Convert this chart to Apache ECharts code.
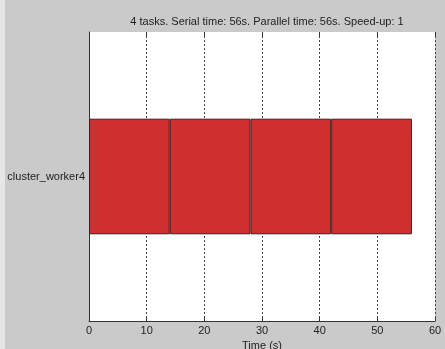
<!DOCTYPE html>
<html>
<head>
<meta charset="utf-8">
<script src="https://cdn.jsdelivr.net/npm/echarts@6/dist/echarts.min.js"></script>
<style>html,body{margin:0;padding:0;background:#cacaca;}#c{width:445px;height:349px;}</style>
</head>
<body>
<div id="c"></div>
<script>
var titleText = '4 tasks. Serial time: 56s. Parallel time: 56s. Speed-up: 1';
var categories = ['cluster_worker4'];
var task1 = [14];
var task2 = [14];
var task3 = [14];
var task4 = [14];
var xTicks = [0, 10, 20, 30, 40, 50, 60];
var xLabel = 'Time (s)';

var chart = echarts.init(document.getElementById('c'), null, {renderer: 'canvas'});
var font = 'Arial, "Liberation Sans", sans-serif';
function seg(name, data) {
  return {
    name: name, type: 'bar', stack: 'total', data: data,
    barWidth: '40%',
    itemStyle: {color: '#cf2f2e', borderColor: '#3a2020', borderWidth: 1},
    emphasis: {disabled: true}, animation: false
  };
}
chart.setOption({
  backgroundColor: '#cacaca',
  animation: false,
  title: {
    text: titleText, left: 262, top: 11, textAlign: 'center',
    textStyle: {fontFamily: font, fontSize: 11, fontWeight: 'normal', color: '#222'}
  },
  graphic: [{type: 'rect', shape: {x: 0, y: 0, width: 5, height: 349}, style: {fill: '#e6e6e6'}, z: -10}],
  grid: {left: 89, right: 10, top: 32, bottom: 28, show: true, backgroundColor: '#fff', borderWidth: 0,
         containLabel: false, outerBoundsMode: 'none'},
  xAxis: [{
    type: 'value', min: xTicks[0], max: xTicks[xTicks.length - 1], interval: 10,
    name: xLabel, nameLocation: 'middle', nameGap: 14,
    nameTextStyle: {fontFamily: font, fontSize: 11, color: '#222'},
    axisLine: {show: true, lineStyle: {color: '#333', width: 1}},
    axisTick: {show: true, inside: true, length: 4, lineStyle: {color: '#333'}},
    axisLabel: {fontFamily: font, fontSize: 11, color: '#222', margin: 4},
    splitLine: {show: true, lineStyle: {color: '#444', type: [2, 2], width: 1}}
  }, {
    type: 'value', position: 'top', min: xTicks[0], max: xTicks[xTicks.length - 1], interval: 10,
    axisLine: {show: false},
    axisTick: {show: true, inside: true, length: 4, lineStyle: {color: '#333'}},
    axisLabel: {show: false}, splitLine: {show: false}
  }],
  yAxis: {
    type: 'category', data: categories,
    axisLine: {show: true, lineStyle: {color: '#333', width: 1}},
    axisTick: {show: false},
    axisLabel: {fontFamily: font, fontSize: 11, color: '#222', margin: 4}
  },
  series: [seg('t1', task1), seg('t2', task2), seg('t3', task3), seg('t4', task4)]
});
</script>
</body>
</html>
